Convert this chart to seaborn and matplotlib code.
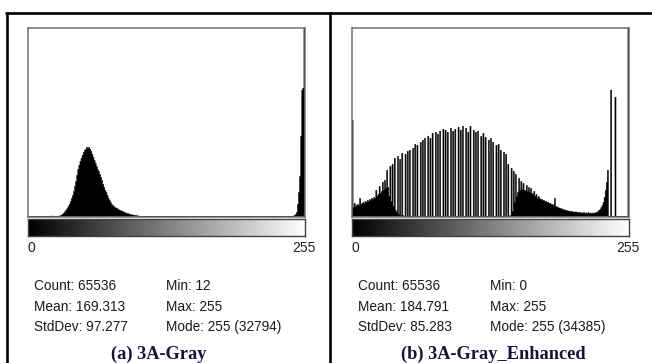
import numpy as np
import pandas as pd
import matplotlib
matplotlib.use('Agg')
import matplotlib.pyplot as plt
import seaborn as sns
from matplotlib.lines import Line2D

# DATA
levels = list(range(256))

# 3A-Gray histogram counts (bins 0..255)
gray_counts = [
    0, 0, 0, 0, 0, 0, 0, 0, 0, 0, 0, 0, 1, 2, 1, 3,
    2, 4, 3, 5, 4, 6, 5, 7, 4, 5, 4, 5, 6, 8, 16, 24,
    40, 56, 80, 104, 128, 160, 192, 240, 288, 336, 400, 480, 560, 656, 752, 816,
    880, 928, 976, 1024, 1056, 1072, 1104, 1088, 1104, 1072, 1040, 992, 944, 896, 848, 800,
    752, 720, 672, 624, 576, 512, 464, 416, 384, 336, 288, 256, 224, 192, 176, 160,
    144, 136, 128, 112, 104, 96, 88, 80, 72, 64, 56, 48, 48, 40, 32, 32,
    24, 24, 16, 16, 16, 8, 8, 5, 3, 2, 2, 1, 2, 1, 1, 2,
    1, 2, 1, 1, 2, 1, 0, 1, 2, 1, 1, 0, 1, 2, 1, 1,
    2, 1, 1, 0, 1, 1, 2, 1, 0, 1, 1, 2, 1, 1, 0, 1,
    1, 0, 2, 1, 1, 1, 0, 1, 2, 1, 0, 1, 1, 1, 2, 0,
    1, 1, 0, 1, 2, 1, 1, 0, 1, 1, 2, 1, 0, 1, 1, 1,
    2, 1, 1, 0, 1, 2, 1, 1, 1, 0, 1, 2, 1, 1, 0, 1,
    1, 2, 1, 1, 0, 1, 1, 2, 1, 1, 1, 0, 2, 1, 1, 1,
    1, 1, 2, 1, 1, 0, 1, 1, 2, 1, 1, 1, 2, 1, 1, 2,
    1, 2, 1, 1, 2, 1, 2, 1, 1, 2, 1, 2, 2, 1, 2, 2,
    2, 1, 2, 3, 4, 8, 16, 32, 64, 192, 384, 640, 1280, 2016, 2048, 32794,
]

# 3A-Gray_Enhanced histogram counts (bins 0..255)
enhanced_counts = [
    576, 54, 78, 60, 66, 72, 66, 108, 72, 78, 84, 78, 90, 84, 96, 90,
    102, 96, 108, 102, 114, 108, 156, 120, 132, 180, 138, 150, 204, 156, 216, 168,
    276, 174, 120, 300, 90, 312, 60, 348, 36, 24, 360, 12, 342, 6, 378, 6,
    0, 372, 0, 390, 0, 396, 0, 0, 408, 0, 432, 0, 426, 0, 0, 444,
    0, 456, 0, 468, 0, 0, 480, 0, 468, 0, 498, 0, 0, 504, 0, 492,
    0, 510, 0, 0, 522, 0, 516, 0, 504, 0, 0, 528, 0, 510, 0, 522,
    0, 0, 534, 0, 516, 0, 540, 0, 0, 528, 0, 504, 0, 540, 0, 0,
    516, 0, 504, 0, 510, 0, 0, 480, 0, 498, 0, 474, 0, 0, 456, 0,
    468, 0, 444, 0, 0, 426, 0, 432, 0, 396, 0, 0, 384, 0, 372, 0,
    312, 0, 6, 288, 30, 270, 84, 252, 120, 144, 228, 156, 210, 162, 198, 156,
    156, 186, 150, 174, 144, 168, 138, 132, 150, 120, 132, 108, 120, 108, 102, 102,
    96, 96, 90, 90, 84, 84, 78, 78, 72, 72, 66, 108, 60, 57, 54, 51,
    48, 48, 42, 42, 39, 36, 36, 33, 33, 30, 30, 30, 27, 27, 27, 27,
    24, 24, 21, 24, 18, 21, 24, 18, 21, 18, 24, 18, 21, 18, 21, 18,
    21, 24, 24, 30, 36, 42, 54, 66, 84, 114, 156, 204, 276, 0, 0, 756,
    0, 0, 0, 714, 0, 0, 0, 0, 0, 0, 0, 0, 0, 0, 0, 34385,
]

# vertical display limit of each histogram (ImageJ clips the mode bin)
ylims = [3008, 1128]

stats_left = [['Count: 65536', 'Mean: 169.313', 'StdDev: 97.277'],
              ['Count: 65536', 'Mean: 184.791', 'StdDev: 85.283']]
stats_right = [['Min: 12', 'Max: 255', 'Mode: 255 (32794)'],
               ['Min: 0', 'Max: 255', 'Mode: 255 (34385)']]
captions = ['(a) 3A-Gray', '(b) 3A-Gray_Enhanced']
range_labels = ['0', '255']

# FIGURE
W, H = 652, 363
sns.set_style('white')
plt.rcParams['font.family'] = ['Liberation Sans', 'DejaVu Sans']
fig = plt.figure(figsize=(W / 100, H / 100), dpi=100)
fig.patch.set_facecolor('white')


def box(x0, y0, x1, y1):
    # pixel box (top-left origin) -> figure rect
    return [x0 / W, 1 - y1 / H, (x1 - x0) / W, (y1 - y0) / H]


def fx(x):
    return x / W


def fy(y):
    return 1 - y / H


panels = [
    dict(x0=28, x1=305, counts=gray_counts, ylim=ylims[0], sx1=34, sx2=166, cap=159, lab0=28, lab1=316),
    dict(x0=352, x1=629, counts=enhanced_counts, ylim=ylims[1], sx1=358, sx2=490, cap=493, lab0=351, lab1=640),
]

for i, p in enumerate(panels):
    df = pd.DataFrame({'level': levels, 'count': p['counts']})

    # histogram
    ax = fig.add_axes(box(p['x0'], 28, p['x1'], 216.5))
    sns.histplot(data=df, x='level', weights='count', bins=256, binrange=(0, 256),
                 element='step', fill=True, color='black', alpha=1,
                 linewidth=0.35, edgecolor='black', ax=ax)
    ax.set_xlim(0, 256)
    ax.set_ylim(0, p['ylim'])
    ax.set_xticks([])
    ax.set_yticks([])
    ax.set_xlabel('')
    ax.set_ylabel('')
    for s in ax.spines.values():
        s.set_visible(True)
        s.set_color('#707070')
        s.set_linewidth(1.1)

    # gray gradient bar
    gax = fig.add_axes(box(p['x0'], 219, p['x1'], 236))
    grad = np.linspace(0, 1, 256)[None, :]
    gax.imshow(grad, cmap='gray', aspect='auto', vmin=0, vmax=1)
    gax.set_xticks([])
    gax.set_yticks([])
    for s in gax.spines.values():
        s.set_color('#404040')
        s.set_linewidth(1.0)

    # range labels
    fig.text(fx(p['lab0']), fy(247.5), range_labels[0], ha='left', va='center',
             fontsize=10, color='#222222')
    fig.text(fx(p['lab1']), fy(247.5), range_labels[1], ha='right', va='center',
             fontsize=10, color='#222222')

    # stats
    for j, (a, b) in enumerate(zip(stats_left[i], stats_right[i])):
        y = 286.5 + j * 20.3
        fig.text(fx(p['sx1']), fy(y), a, ha='left', va='center', fontsize=9.8, color='#1a1a1a')
        fig.text(fx(p['sx2']), fy(y), b, ha='left', va='center', fontsize=9.8, color='#1a1a1a')

    # caption
    fig.text(fx(p['cap']), fy(354.5), captions[i], ha='center', va='center',
             fontsize=13.2, fontweight='bold', color='#14143a',
             family=['Liberation Serif', 'DejaVu Serif'])

# outer frame lines
lw = 1.9
fig.add_artist(Line2D([fx(6), fx(652)], [fy(13), fy(13)], color='black', lw=lw))
fig.add_artist(Line2D([fx(7), fx(7)], [fy(13), fy(363)], color='black', lw=lw))
fig.add_artist(Line2D([fx(330), fx(330)], [fy(13), fy(363)], color='black', lw=lw))

fig.savefig('out.png', dpi=100, facecolor='white')
